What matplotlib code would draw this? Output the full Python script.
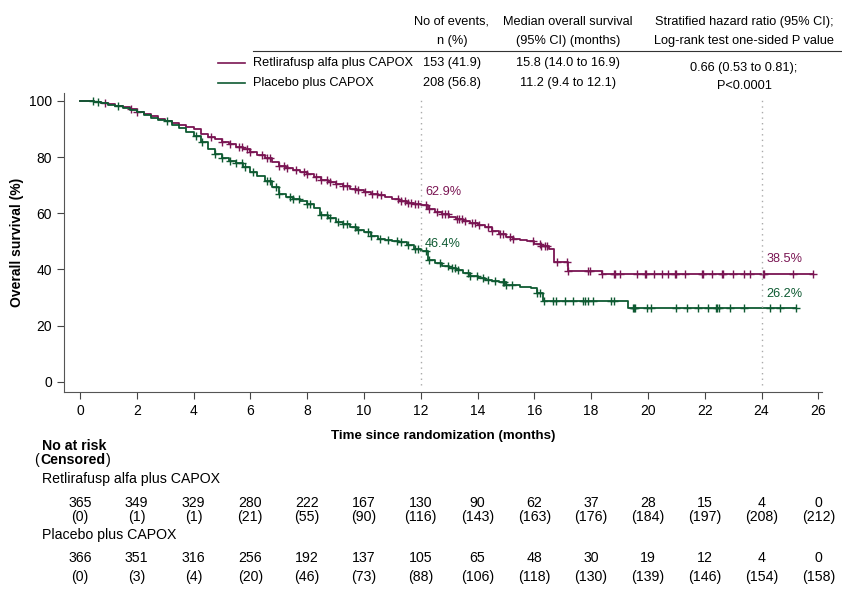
import numpy as np
import matplotlib
matplotlib.use("Agg")
import matplotlib.pyplot as plt

plt.rcParams["font.family"] = ["Liberation Sans", "DejaVu Sans"]

# Kaplan-Meier steps (months, %)
retli_t = [0, 0.25, 0.5, 0.75, 1.0, 1.25, 1.5, 1.75, 2.0, 2.25, 2.5, 2.75, 3.0, 3.25, 3.5, 3.75,
           4.0, 4.25, 4.5, 4.75, 5.0, 5.25, 5.5, 5.75, 6.0, 6.25, 6.5, 6.75, 7.0, 7.25, 7.5, 7.75,
           8.0, 8.25, 8.5, 8.75, 9.0, 9.25, 9.5, 9.75, 10.0, 10.25, 10.5, 10.75, 11.0, 11.25,
           11.5, 11.75, 12.0, 12.25, 12.5, 12.75, 13.0, 13.25, 13.5, 13.75, 14.0, 14.25, 14.5,
           14.75, 15.0, 15.25, 15.5, 15.75, 16.0, 16.25, 16.5, 16.7, 17.2, 18.4, 25.8]
retli_s = [100, 100, 99.6, 99.3, 98.9, 98.3, 97.8, 97.0, 96.2, 95.3, 94.5, 93.6, 92.7, 92.2, 91.5,
           90.8, 90.1, 88.2, 87.2, 86.4, 85.5, 84.5, 83.6, 82.9, 81.8, 80.9, 79.8, 78.3, 77.0,
           76.2, 75.4, 74.8, 73.9, 73.0, 72.0, 71.0, 70.3, 69.6, 68.8, 68.2, 67.7, 67.0, 66.4,
           65.8, 65.2, 64.5, 63.8, 63.3, 62.9, 61.5, 60.4, 59.6, 58.8, 58.0, 57.2, 56.6, 55.8,
           55.0, 53.8, 52.6, 51.5, 50.9, 50.5, 50.2, 49.2, 48.4, 47.3, 42.6, 39.6, 38.5, 38.5]
placebo_t = [0, 0.25, 0.5, 0.75, 1.0, 1.25, 1.5, 1.75, 2.0, 2.25, 2.5, 2.75, 3.0, 3.25, 3.5, 3.75,
             4.0, 4.25, 4.5, 4.75, 5.0, 5.25, 5.5, 5.75, 6.0, 6.25, 6.5, 6.75, 7.0, 7.25, 7.5,
             7.75, 8.0, 8.25, 8.45, 8.75, 9.0, 9.25, 9.5, 9.75, 10.0, 10.25, 10.5, 10.75, 11.0,
             11.25, 11.5, 11.75, 12.0, 12.25, 12.5, 12.75, 13.0, 13.25, 13.5, 13.75, 14.0, 14.25,
             14.5, 14.75, 15.0, 15.5, 15.9, 16.1, 16.3, 19.3, 25.2]
placebo_s = [100, 100, 99.5, 99.1, 98.7, 98.2, 97.6, 96.9, 96.0, 95.0, 93.8, 93.2, 92.7, 91.5,
             90.3, 89.0, 87.4, 85.4, 83.0, 81.1, 79.8, 78.6, 77.8, 76.3, 74.8, 73.3, 71.4, 69.2,
             67.0, 65.9, 65.2, 64.4, 63.2, 62.0, 59.3, 58.2, 57.0, 56.2, 55.2, 54.2, 53.2, 51.8,
             50.8, 50.4, 50.2, 49.8, 48.6, 47.3, 46.4, 43.2, 42.2, 41.2, 40.5, 39.9, 38.8, 37.6,
             37.0, 36.2, 35.9, 35.4, 34.6, 33.8, 33.5, 31.5, 28.7, 26.2, 26.2]

retli_cens = [0.9, 1.8, 2.0, 4.6, 5.0, 5.3, 5.6, 5.7, 5.9, 6.0, 6.4, 6.6, 6.7, 7.0, 7.2, 7.3,
              7.6, 7.9, 8.0, 8.3, 8.5, 8.7, 8.8, 9.0, 9.27, 9.4, 9.68, 9.8, 10.03, 10.3, 10.45,
              10.6, 11.2, 11.3, 11.44, 11.55, 11.65, 11.8, 11.9, 12.2, 12.3, 12.57, 12.75, 12.85,
              12.95, 13.27, 13.35, 13.45, 13.55, 13.8, 13.9, 14.05, 14.37, 14.5, 14.79, 14.9,
              15.14, 15.25, 15.95, 16.2, 16.25, 16.37, 16.45, 16.8, 17.14, 17.2, 17.9, 17.95,
              18.4, 18.8, 18.85, 19.0, 19.6, 19.9, 19.95, 20.2, 20.5, 20.7, 20.95, 21.0, 21.3,
              21.9, 21.95, 22.25, 22.6, 22.65, 23.0, 23.4, 23.6, 24.05, 24.1, 25.1, 25.8]
placebo_cens = [0.47, 0.63, 1.35, 3.05, 4.1, 4.3, 4.76, 5.0, 5.3, 5.5, 5.7, 5.8, 6.1, 6.6, 6.7,
                6.9, 7.0, 7.4, 7.5, 7.7, 8.0, 8.1, 8.5, 8.7, 8.8, 9.1, 9.27, 9.4, 9.68, 9.8,
                10.14, 10.25, 10.56, 10.85, 11.16, 11.3, 11.55, 11.8, 11.9, 12.2, 12.3, 12.68,
                12.96, 13.1, 13.2, 13.3, 13.66, 13.75, 13.98, 14.2, 14.37, 14.6, 14.9, 14.95,
                15.0, 15.2, 16.1, 16.2, 16.35, 16.66, 16.75, 17.08, 17.37, 17.7, 17.8, 17.9,
                18.06, 18.7, 18.8, 19.47, 19.5, 19.55, 19.96, 20.1, 21.0, 21.36, 21.76, 22.1,
                22.4, 22.45, 22.5, 22.9, 23.4, 24.3, 24.65, 25.2]

arms = ["Retlirafusp alfa plus CAPOX", "Placebo plus CAPOX"]
events = ["153 (41.9)", "208 (56.8)"]
medians = ["15.8 (14.0 to 16.9)", "11.2 (9.4 to 12.1)"]
hr_text = ["0.66 (0.53 to 0.81);", "P<0.0001"]
landmarks = [12, 24]
retli_marks = ["62.9%", "38.5%"]
placebo_marks = ["46.4%", "26.2%"]

risk_times = list(range(0, 27, 2))
retli_risk = [365, 349, 329, 280, 222, 167, 130, 90, 62, 37, 28, 15, 4, 0]
retli_censored = [0, 1, 1, 21, 55, 90, 116, 143, 163, 176, 184, 197, 208, 212]
placebo_risk = [366, 351, 316, 256, 192, 137, 105, 65, 48, 30, 19, 12, 4, 0]
placebo_censored = [0, 3, 4, 20, 46, 73, 88, 106, 118, 130, 139, 146, 154, 158]

PURPLE = "#7a1553"
GREEN = "#0e5a32"

W, H = 842, 592
fs = 9.2       # header and annotations
fs_tab = 10.2  # number-at-risk table


def fx(x):
    return x / W


def fy(y):
    return 1 - y / H


def step_value(times, surv, t):
    i = np.searchsorted(times, t, side="right") - 1
    return np.asarray(surv)[i]


fig = plt.figure(figsize=(W / 100, H / 100), dpi=100)
ax = fig.add_axes([fx(64), fy(392), fx(822) - fx(64), fy(93) - fy(392)])

for t, s, cens, col in [(retli_t, retli_s, retli_cens, PURPLE),
                        (placebo_t, placebo_s, placebo_cens, GREEN)]:
    ax.plot(t, s, drawstyle="steps-post", color=col, lw=1.3)
    ax.plot(cens, step_value(t, s, cens), ls="none", marker="+", ms=5.5, mew=1.0, color=col)

for lm in landmarks:
    ax.plot([lm, lm], [-1, 101.5], ls=(0, (1, 3)), color="#aaaaaa", lw=1.0, clip_on=False)

ax.text(12.15, 67.6, retli_marks[0], color=PURPLE, fontsize=fs, va="center")
ax.text(12.15, 48.9, placebo_marks[0], color=GREEN, fontsize=fs, va="center")
ax.text(24.18, 43.6, retli_marks[1], color=PURPLE, fontsize=fs, va="center")
ax.text(24.18, 31.1, placebo_marks[1], color=GREEN, fontsize=fs, va="center")

ax.set_xlim(-0.56, 26.13)
ax.set_ylim(-3.6, 102.8)
ax.set_xticks(risk_times)
ax.set_yticks(range(0, 101, 20))
ax.tick_params(labelsize=10, length=5, direction="out", color="#444444")
for side in ["left", "bottom"]:
    ax.spines[side].set_color("#555555")
ax.spines["top"].set_visible(False)
ax.spines["right"].set_visible(False)
ax.set_xlabel("Time since randomization (months)", fontsize=9.6, fontweight="bold", labelpad=9)
ax.set_ylabel("Overall survival (%)", fontsize=10, fontweight="bold", labelpad=4)

# header table
fig.text(fx(452), fy(22), "No of events,", ha="center", va="center", fontsize=fs)
fig.text(fx(452), fy(41), "n (%)", ha="center", va="center", fontsize=fs)
fig.text(fx(568), fy(22), "Median overall survival", ha="center", va="center", fontsize=fs)
fig.text(fx(568), fy(41), "(95% CI) (months)", ha="center", va="center", fontsize=fs)
fig.text(fx(744), fy(22), "Stratified hazard ratio (95% CI);", ha="center", va="center", fontsize=fs)
fig.text(fx(744), fy(41), "Log-rank test one-sided P value", ha="center", va="center", fontsize=fs)
fig.add_artist(plt.Line2D([fx(253), fx(842)], [fy(51), fy(51)], color="#333333", lw=0.8))

for row, (arm, ev, med, col) in enumerate(zip(arms, events, medians, [PURPLE, GREEN])):
    y = 63 + row * 20
    fig.add_artist(plt.Line2D([fx(218), fx(245)], [fy(y), fy(y)], color=col, lw=1.2))
    fig.text(fx(253), fy(y), arm, ha="left", va="center", fontsize=fs)
    fig.text(fx(452), fy(y), ev, ha="center", va="center", fontsize=fs)
    fig.text(fx(568), fy(y), med, ha="center", va="center", fontsize=fs)
fig.text(fx(744), fy(68), hr_text[0], ha="center", va="center", fontsize=fs)
fig.text(fx(744), fy(86), hr_text[1], ha="center", va="center", fontsize=fs)

# number at risk table
fig.text(fx(42), fy(446), "No at risk", ha="left", va="center", fontsize=fs_tab, fontweight="bold")
fig.text(fx(34), fy(464), "(", ha="left", va="baseline", fontsize=fs_tab)
cens_label = fig.text(fx(40.5), fy(464), "Censored", ha="left", va="baseline", fontsize=fs_tab,
                      fontweight="bold")
fig.canvas.draw()
right_px = cens_label.get_window_extent().x1
fig.text(right_px / W + fx(0.5), fy(464), ")", ha="left", va="baseline", fontsize=fs_tab)

table_rows = [(arms[0], retli_risk, retli_censored, 479, 503, 517),
              (arms[1], placebo_risk, placebo_censored, 535, 558, 577)]
for name, risk, cens, y_name, y_risk, y_cens in table_rows:
    fig.text(fx(42), fy(y_name), name, ha="left", va="center", fontsize=fs_tab)
    for t, n, c in zip(risk_times, risk, cens):
        xd = fig.transFigure.inverted().transform(ax.transData.transform((t, 0)))[0]
        fig.text(xd, fy(y_risk), str(n), ha="center", va="center", fontsize=fs_tab)
        fig.text(xd, fy(y_cens), f"({c})", ha="center", va="center", fontsize=fs_tab)

fig.savefig("out.png", dpi=100)
